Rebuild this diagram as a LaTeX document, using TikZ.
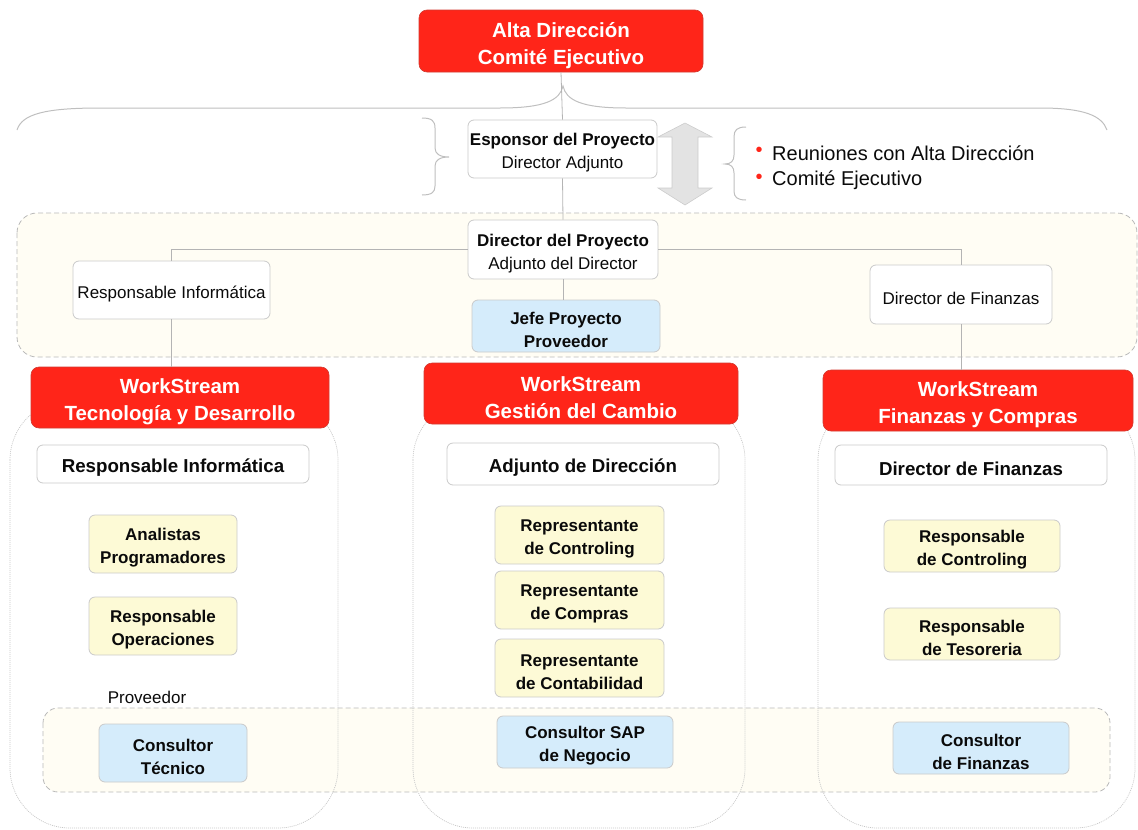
\documentclass[tikz,border=0pt]{standalone}
\usepackage{fontspec}
\setmainfont{Liberation Sans}

\definecolor{wsred}{HTML}{FF2519}
\definecolor{redline}{HTML}{D23A30}
\definecolor{paleyellow}{HTML}{FDFAD6}
\definecolor{paleblue}{HTML}{D5ECFB}
\definecolor{bandfill}{HTML}{FFFDF4}
\definecolor{boxline}{HTML}{CACACA}
\definecolor{linkgray}{HTML}{B4B4B4}
\definecolor{txt}{HTML}{0A0A0A}

\newcommand\lblfont{\fontsize{17}{23}\selectfont}
\newcommand\headfont{\fontsize{18.7}{23}\selectfont\bfseries}
\newcommand\ttlfont{\fontsize{20.5}{27}\selectfont\bfseries}
% strut that opens the first line of a box label, set per style
\newcommand\boxlead{}

\begin{document}
\begin{tikzpicture}[x=1pt,y=-1pt,
  box/.style={draw=boxline, line width=0.8pt, rounded corners=6pt, align=center,
    inner sep=0pt, text=txt, font=\lblfont,
    execute at begin node={\def\boxlead{\rule{0pt}{20.5pt}}}},
  whitebox/.style={box, fill=white},
  headbox/.style={box, fill=white, font=\headfont,
    execute at begin node={\def\boxlead{\rule{0pt}{20.5pt}}}},
  yellowbox/.style={box, fill=paleyellow, font=\lblfont\bfseries},
  bluebox/.style={box, fill=paleblue, font=\lblfont\bfseries},
  redbox/.style={draw=redline, line width=0.6pt, fill=wsred, rounded corners=8pt,
    text=white, font=\ttlfont, align=center, inner sep=0pt,
    execute at begin node={\def\boxlead{\rule{0pt}{23.5pt}}}},
  link/.style={draw=linkgray, line width=0.8pt},
  bracket/.style={draw=linkgray!85, line width=1pt},
  zone/.style={draw=gray!55, line width=0.8pt, dash pattern=on 5pt off 3pt,
    fill=bandfill, rounded corners=20pt},
  column/.style={draw=gray!45, line width=0.7pt, dash pattern=on 1pt off 1pt,
    rounded corners=60pt}]

\useasboundingbox (0,0) rectangle (1138,830);

% shaded zones
\draw[zone] (17,213) rectangle (1137,357);
\draw[zone, rounded corners=15pt] (43,708) rectangle (1110,792);

% workstream columns
\draw[column] (10,400) rectangle (338,828);
\draw[column] (413,400) rectangle (745,828);
\draw[column] (818,400) rectangle (1135,828);

% executive level
\node[redbox, minimum width=284pt, minimum height=62pt] (alta) at (561,41)
  {\boxlead Alta Dirección\\Comité Ejecutivo};

% brace below the executive committee
\draw[bracket] (17,130) .. controls (22,114) and (45,108) .. (100,108) -- (500,108)
  .. controls (545,108) and (560,100) .. (563,86)
  .. controls (566,100) and (581,108) .. (626,108) -- (1040,108)
  .. controls (1085,108) and (1102,116) .. (1107,130);

\node[whitebox, minimum width=189pt, minimum height=58pt] (esp) at (562.5,149)
  {\boxlead{\bfseries Esponsor del Proyecto}\\Director Adjunto};

% small brackets around the sponsor
\draw[bracket] (422,118) .. controls (432,118) and (435,121) .. (435,128) -- (435,148)
  .. controls (435,154) and (440,157) .. (449,157)
  .. controls (440,157) and (435,160) .. (435,166) -- (435,186)
  .. controls (435,192) and (432,195) .. (422,195);
\draw[bracket] (746,127) .. controls (737,127) and (734,130) .. (734,137) -- (734,155)
  .. controls (734,161) and (731,164) .. (725,164)
  .. controls (731,164) and (734,167) .. (734,173) -- (734,191)
  .. controls (734,197) and (737,200) .. (746,200);

% two-way arrow
\draw[draw=gray!40, fill=gray!22, line width=0.6pt]
  (685,123) -- (712,137) -- (698,137) -- (698,188) -- (712,188) -- (685,205)
  -- (658,188) -- (672,188) -- (672,137) -- (658,137) -- cycle;

% meeting notes
\node[text=wsred, font=\fontsize{20}{20}\selectfont, inner sep=0pt] (dot1) at (759,152) {•};
\node[text=wsred, font=\fontsize{20}{20}\selectfont, inner sep=0pt] (dot2) at (759,179) {•};
\node[anchor=west, text=txt, font=\fontsize{20}{26}\selectfont, inner sep=0pt] (note1)
  at (772,153) {Reuniones con Alta Dirección};
\node[anchor=west, text=txt, font=\fontsize{20}{26}\selectfont, inner sep=0pt] (note2)
  at (772,180) {Comité Ejecutivo};

% project management level
\node[whitebox, minimum width=190pt, minimum height=59pt] (dir) at (563,249.5)
  {\boxlead{\bfseries Director del Proyecto}\\Adjunto del Director};
\node[whitebox, minimum width=197pt, minimum height=58pt] (rinf) at (171.5,290)
  {\boxlead Responsable Informática};
\node[bluebox, minimum width=188pt, minimum height=52pt] (jefe) at (566,326)
  {\boxlead Jefe Proyecto\\Proveedor};
\node[whitebox, minimum width=182pt, minimum height=59pt] (dfin) at (961,294.5)
  {\boxlead Director de Finanzas};

% workstream headers
\node[redbox, minimum width=298pt, minimum height=61pt] (ws1) at (180,397.5)
  {\boxlead WorkStream\\Tecnología y Desarrollo};
\node[redbox, minimum width=314pt, minimum height=61pt] (ws2) at (581,393.5)
  {\boxlead WorkStream\\Gestión del Cambio};
\node[redbox, minimum width=310pt, minimum height=61pt] (ws3) at (978,400.5)
  {\boxlead WorkStream\\Finanzas y Compras};

% connectors
\draw[link] (alta.south) -- (esp.north);
\draw[link] (esp.south) -- (dir.north);
\draw[link] (dir.south) -- (dir.south |- jefe.north);
\draw[link] (dir.west) -| (rinf.north);
\draw[link] (dir.east) -| (dfin.north);
\draw[link] (rinf.south) -- (rinf.south |- ws1.north);
\draw[link] (dfin.south) -- (dfin.south |- ws3.north);

% column 1
\node[headbox, minimum width=272pt, minimum height=38pt] (c1head)
  at (173,464) {\boxlead Responsable Informática};
\node[yellowbox, minimum width=148pt, minimum height=58pt] (analistas) at (163,544)
  {\boxlead Analistas\\Programadores};
\node[yellowbox, minimum width=148pt, minimum height=58pt] (respop) at (163,626)
  {\boxlead Responsable\\Operaciones};
\node[text=txt, font=\lblfont, inner sep=0pt] (prov) at (147,697) {Proveedor};
\node[bluebox, minimum width=148pt, minimum height=58pt] (constec) at (173,753)
  {\boxlead Consultor\\Técnico};

% column 2
\node[headbox, minimum width=272pt, minimum height=42pt] (c2head)
  at (583,464) {\boxlead Adjunto de Dirección};
\node[yellowbox, minimum width=169pt, minimum height=58pt] (repctrl) at (579.5,535)
  {\boxlead Representante\\de Controling};
\node[yellowbox, minimum width=169pt, minimum height=58pt] (repcomp) at (579.5,600)
  {\boxlead Representante\\de Compras};
\node[yellowbox, minimum width=169pt, minimum height=58pt] (repcont) at (579.5,668)
  {\boxlead Representante\\de Contabilidad};
\node[bluebox, minimum width=176pt, minimum height=52pt] (sap) at (585,742)
  {\boxlead Consultor SAP\\de Negocio};

% column 3
\node[headbox, minimum width=272pt, minimum height=40pt] (c3head)
  at (971,465) {\boxlead Director de Finanzas};
\node[yellowbox, minimum width=176pt, minimum height=52pt] (respctrl) at (972,546)
  {\boxlead Responsable\\de Controling};
\node[yellowbox, minimum width=176pt, minimum height=52pt] (resptes) at (972,634)
  {\boxlead Responsable\\de Tesoreria};
\node[bluebox, minimum width=176pt, minimum height=52pt] (consfin) at (981,748)
  {\boxlead Consultor\\de Finanzas};

\end{tikzpicture}
\end{document}
